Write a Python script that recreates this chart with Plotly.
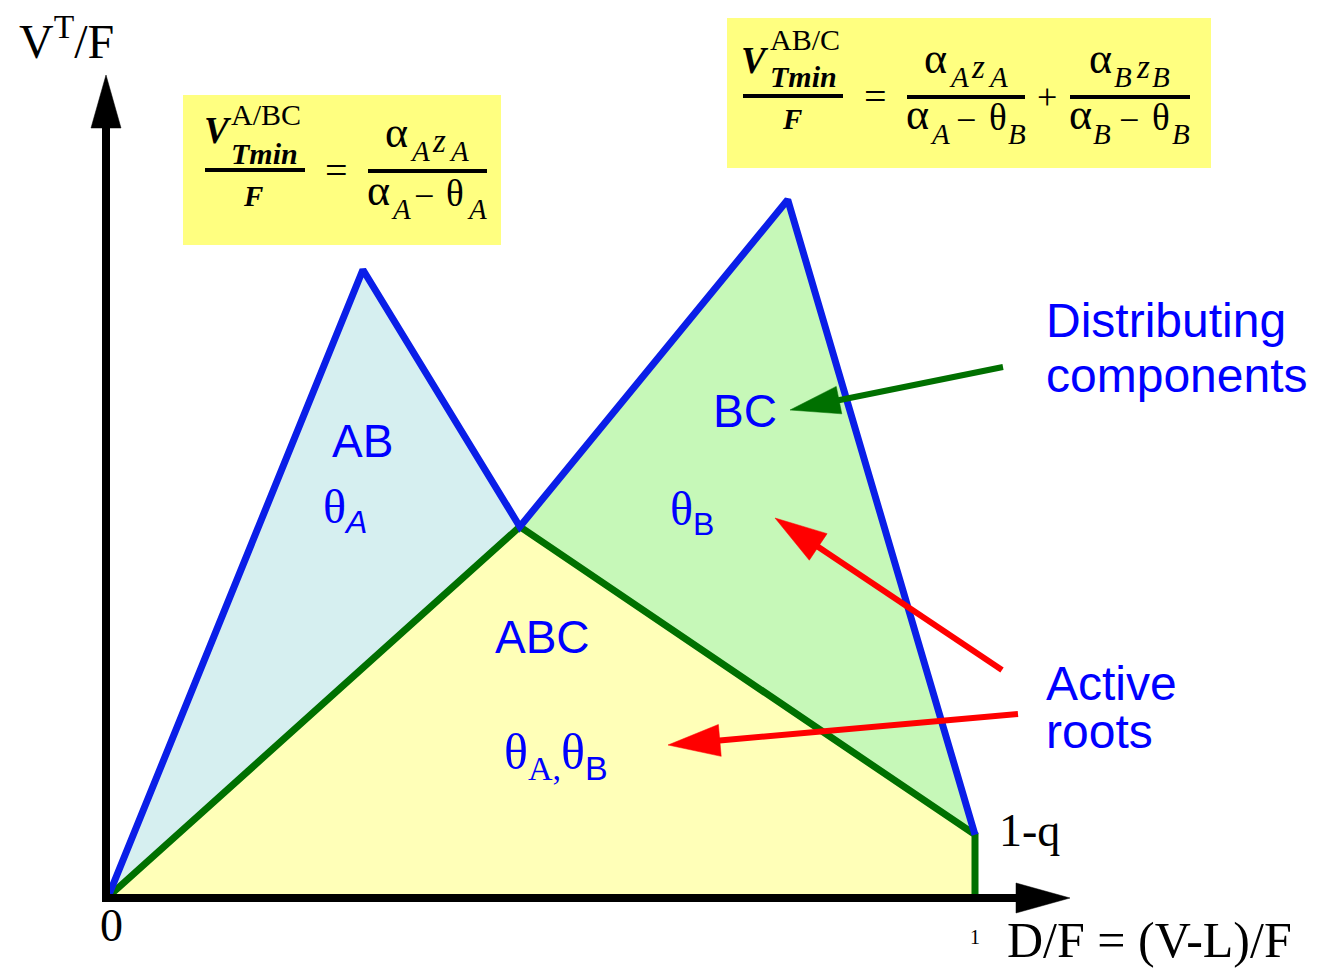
import math
import plotly.graph_objects as go

W, H = 1333, 969

# ---- Data (D/F on x, V_T/F on y) ----
df_blue = [0.0, 0.294, 0.475, 0.784, 1.0]
vt_blue = [0.0, 0.896, 0.529, 0.996, 0.089]
df_green = [0.0, 0.475, 1.0, 1.0]
vt_green = [0.0, 0.529, 0.089, 0.0]

region_ab_x = [0.0, 0.294, 0.475, 0.0]
region_ab_y = [0.0, 0.896, 0.529, 0.0]
region_bc_x = [0.475, 0.784, 1.0, 0.475]
region_bc_y = [0.529, 0.996, 0.089, 0.529]
region_abc_x = [0.0, 0.475, 1.0, 1.0, 0.0]
region_abc_y = [0.0, 0.529, 0.089, 0.0, 0.0]

region_labels = ["AB", "BC", "ABC"]

SANS = "Liberation Sans, Arial, sans-serif"
SERIF = "Liberation Serif, Times New Roman, serif"
BLUE_TXT = "#0000ff"
BLUE_LINE = "#0a1ee8"
GREEN = "#007000"
RED = "#ff0000"


def px(x):
    return x / W


def py(y):
    return 1 - y / H


fig = go.Figure()

fig.add_trace(go.Scatter(x=region_abc_x, y=region_abc_y, mode="none", fill="toself",
                         fillcolor="#ffffb8", hoverinfo="skip", showlegend=False))
fig.add_trace(go.Scatter(x=region_ab_x, y=region_ab_y, mode="none", fill="toself",
                         fillcolor="#d6eff0", hoverinfo="skip", showlegend=False))
fig.add_trace(go.Scatter(x=region_bc_x, y=region_bc_y, mode="none", fill="toself",
                         fillcolor="#c6f8b8", hoverinfo="skip", showlegend=False))
fig.add_trace(go.Scatter(x=df_green, y=vt_green, mode="lines",
                         line=dict(color=GREEN, width=7), hoverinfo="skip", showlegend=False))
fig.add_trace(go.Scatter(x=df_blue, y=vt_blue, mode="lines",
                         line=dict(color=BLUE_LINE, width=7), hoverinfo="skip", showlegend=False))

shapes = []


def arrow(x0, y0, x1, y1, color, width, hl, hw):
    dx, dy = x1 - x0, y1 - y0
    L = math.hypot(dx, dy)
    ux, uy = dx / L, dy / L
    bx, by = x1 - ux * hl, y1 - uy * hl
    nx, ny = -uy, ux
    shapes.append(dict(type="line", xref="paper", yref="paper", layer="above",
                       x0=px(x0), y0=py(y0), x1=px(bx + ux * 3), y1=py(by + uy * 3),
                       line=dict(color=color, width=width)))
    path = (f"M {px(x1)},{py(y1)} L {px(bx + nx * hw)},{py(by + ny * hw)} "
            f"L {px(bx - nx * hw)},{py(by - ny * hw)} Z")
    shapes.append(dict(type="path", xref="paper", yref="paper", layer="above", path=path,
                       fillcolor=color, line=dict(color=color, width=0.5)))


def rect(x0, y0, x1, y1, color):
    shapes.append(dict(type="rect", xref="paper", yref="paper", layer="below",
                       x0=px(x0), y0=py(y0), x1=px(x1), y1=py(y1),
                       fillcolor=color, line=dict(width=0)))


def hline(x0, x1, y, width=4):
    shapes.append(dict(type="line", xref="paper", yref="paper", layer="above",
                       x0=px(x0), y0=py(y), x1=px(x1), y1=py(y),
                       line=dict(color="black", width=width)))


# formula boxes
rect(183, 95, 501, 245, "#ffff80")
rect(727, 18, 1211, 168, "#ffff80")

# axes
arrow(106, 901, 106, 75, "black", 8, 53, 15)
arrow(102, 898, 1070, 898, "black", 8, 54, 15)

# pointer arrows
arrow(1003, 367, 790, 410, GREEN, 6, 50, 14)
arrow(1002, 670, 775, 518, RED, 6, 52, 16)
arrow(1018, 714, 668, 745, RED, 6, 52, 16)

# fraction bars
hline(205, 305, 170)
hline(368, 487, 171)
hline(743, 843, 96)
hline(907, 1025, 97)
hline(1070, 1190, 97)

annotations = []


def ann(text, x, y, size, color="black", family=SERIF, xanchor="center", yanchor="middle"):
    annotations.append(dict(text=text, x=px(x), y=py(y), xref="paper", yref="paper",
                            showarrow=False, xanchor=xanchor, yanchor=yanchor, align="left",
                            borderpad=0,
                            font=dict(size=size, color=color, family=family)))


def tb(text, xleft, baseline, size, italic=False, anchor="left"):
    """Place serif text by its left edge and baseline (pixels)."""
    t = f"<i>{text}</i>" if italic else text
    ann(t, xleft, baseline - 0.35 * size, size, xanchor=anchor)


def sub(t, size, italic=True, family=None):
    inner = f"<i>{t}</i>" if italic else t
    fam = f"font-family:{family};" if family else ""
    return f"<sub><span style='font-size:{size}px;{fam}'>{inner}</span></sub>"


# axis texts
ann("V<sup>T</sup>/F", 66, 38, 48)
ann("0", 111, 925, 46)
ann("1", 975, 937, 20)
ann("D/F = (V-L)/F", 1006, 940, 50, xanchor="left")
ann("1-q", 998, 830, 46, xanchor="left")

# region labels
ann(region_labels[0], 362, 441, 46, BLUE_TXT, SANS)
ann(region_labels[1], 745, 411, 46, BLUE_TXT, SANS)
ann(region_labels[2], 542, 637, 46, BLUE_TXT, SANS)
ann("θ" + sub("A", 32, True, "Liberation Sans"), 345, 510, 48, BLUE_TXT)
ann("θ" + sub("B", 32, False, "Liberation Sans"), 692, 512, 48, BLUE_TXT)
ann("θ" + sub("A,", 34, False) + "θ" + sub("B", 34, False, "Liberation Sans"),
    556, 755, 50, BLUE_TXT)

# side notes
ann("Distributing", 1045, 320, 48, BLUE_TXT, SANS, xanchor="left")
ann("components", 1045, 376, 48, BLUE_TXT, SANS, xanchor="left")
ann("Active", 1045, 683, 48, BLUE_TXT, SANS, xanchor="left")
ann("roots", 1045, 731, 48, BLUE_TXT, SANS, xanchor="left")

A_SZ, SUB_SZ, Z_SZ, TH_SZ = 44, 29, 33, 37

# formula 1 : V_Tmin^{A/BC}/F = a_A z_A / (a_A - theta_A)
ann("<b><i>V</i></b>", 218, 131, 37)
ann("A/BC", 230, 115, 30, xanchor="left")
ann("<b><i>Tmin</i></b>", 230, 153, 30, xanchor="left")
ann("<b><i>F</i></b>", 253, 196, 29)
ann("=", 337, 170, 40)
tb("α", 384, 148, A_SZ)
tb("A", 409, 161, SUB_SZ, True)
tb("z", 431, 153, Z_SZ, True)
tb("A", 448, 161, SUB_SZ, True)
tb("α", 366, 206, A_SZ)
tb("A", 390, 219, SUB_SZ, True)
ann("−", 424, 196, 36)
tb("θ", 445, 206, TH_SZ)
tb("A", 466, 219, SUB_SZ, True)

# formula 2 : V_Tmin^{AB/C}/F = a_A z_A/(a_A - theta_B) + a_B z_B/(a_B - theta_B)
ann("<b><i>V</i></b>", 755, 60, 37)
ann("AB/C", 769, 40, 30, xanchor="left")
ann("<b><i>Tmin</i></b>", 769, 77, 30, xanchor="left")
ann("<b><i>F</i></b>", 792, 119, 29)
ann("=", 875, 97, 40)
tb("α", 923, 74, A_SZ)
tb("A", 948, 87, SUB_SZ, True)
tb("z", 970, 79, Z_SZ, True)
tb("A", 987, 87, SUB_SZ, True)
tb("α", 905, 130, A_SZ)
tb("A", 929, 144, SUB_SZ, True)
ann("−", 966, 120, 36)
tb("θ", 988, 130, TH_SZ)
tb("B", 1007, 144, SUB_SZ, True)
ann("+", 1047, 97, 36)
tb("α", 1088, 74, A_SZ)
tb("B", 1113, 87, SUB_SZ, True)
tb("z", 1135, 79, Z_SZ, True)
tb("B", 1151, 87, SUB_SZ, True)
tb("α", 1068, 130, A_SZ)
tb("B", 1092, 144, SUB_SZ, True)
ann("−", 1129, 120, 36)
tb("θ", 1151, 130, TH_SZ)
tb("B", 1171, 144, SUB_SZ, True)

fig.update_layout(
    width=W, height=H,
    margin=dict(l=0, r=0, t=0, b=0),
    paper_bgcolor="white", plot_bgcolor="white",
    xaxis=dict(range=[-108 / 867, 1225 / 867], visible=False, fixedrange=True),
    yaxis=dict(range=[-72 / 700, 897 / 700], visible=False, fixedrange=True),
    shapes=shapes,
    annotations=annotations,
    showlegend=False,
)

fig.write_html("out.html", config={"displayModeBar": False},
               post_script="document.body.style.margin='0px';")
